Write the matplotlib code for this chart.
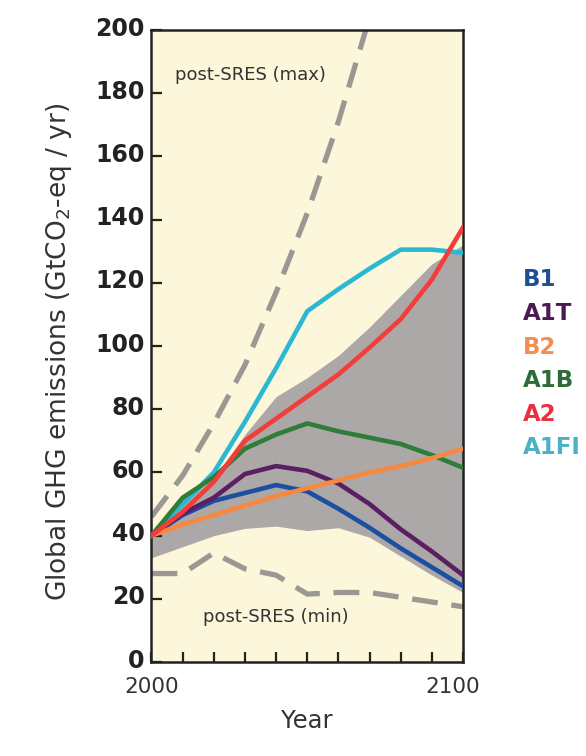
import numpy as np
import matplotlib
matplotlib.use("Agg")
import matplotlib.pyplot as plt
import matplotlib.transforms as mtransforms

# SRES scenario emissions (GtCO2-eq / yr)
years = [2000, 2010, 2020, 2030, 2040, 2050, 2060, 2070, 2080, 2090, 2100]
B1 = [40, 46.5, 51, 53.5, 56, 54, 48.5, 42.5, 36, 30, 24]
A1T = [40, 47, 52, 59.5, 62, 60.5, 56.5, 50, 42, 35, 27.5]
B2 = [40, 43.5, 46.5, 49.5, 52.5, 55, 57.5, 60, 62, 64.5, 67.5]
A1B = [40, 52, 58.5, 67.5, 72, 75.5, 73, 71, 69, 65.5, 61.5]
A2 = [40, 47.5, 57, 70, 77, 84, 91, 99.5, 108.5, 121, 137.5]
A1FI = [40, 50, 60, 76, 93, 111, 118, 124.5, 130.5, 130.5, 129.5]

# grey band (range of post-SRES scenarios)
band_hi = [41, 51, 58, 72, 84, 90, 97, 106, 116, 126, 132]
band_lo = [33, 36.5, 40, 42.3, 43, 41.6, 42.5, 39.5, 33.5, 27.5, 22]

# post-SRES max / min
max_years = [2000, 2010, 2020, 2030, 2040, 2050, 2060, 2070]
post_max = [46, 59, 75.5, 94, 117, 142, 171, 204]
post_min = [28, 28, 34.5, 29.5, 27.5, 21.5, 22, 22, 20.5, 19, 17.5]

names = ["B1", "A1T", "B2", "A1B", "A2", "A1FI"]
line_cols = {"B1": "#1d4fa0", "A1T": "#5b1e63", "B2": "#f6883f",
             "A1B": "#2f7d39", "A2": "#f23d3a", "A1FI": "#2bb8d3"}
text_cols = {"B1": "#1f4e98", "A1T": "#4a1a52", "B2": "#f09050",
             "A1B": "#2f6b36", "A2": "#e8303f", "A1FI": "#4cb0c8"}
series = {"B1": B1, "A1T": A1T, "B2": B2, "A1B": A1B, "A2": A2, "A1FI": A1FI}

plt.rcParams['font.family'] = ['DejaVu Sans']

fig = plt.figure(figsize=(5.86, 7.56), dpi=100)
ax = fig.add_axes([0.2585, 0.1243, 0.5316, 0.836])
ax.set_facecolor('#fcf6da')

ax.fill_between(years, band_lo, band_hi, color='#aca8a7', lw=0, zorder=1)

dash_kw = dict(color='#9b9893', lw=3.8, dashes=(4.9, 2.6), zorder=2,
               dash_capstyle='butt')
ax.plot(max_years, post_max, **dash_kw)
ax.plot(years, post_min, **dash_kw)

for n in ["A1FI", "A1B", "B1", "A1T", "B2", "A2"]:
    ax.plot(years, series[n], color=line_cols[n], lw=3.3, zorder=3)

ax.text(2007.5, 185.8, "post-SRES (max)", fontsize=13, color='#333333',
        va='center', ha='left')
ax.text(2016.5, 14.2, "post-SRES (min)", fontsize=13, color='#333333',
        va='center', ha='left')

ax.set_xlim(2000, 2100)
ax.set_ylim(0, 200)
ax.set_yticks(range(0, 201, 20))
ax.set_xticks(range(2000, 2101, 10))
ax.set_xticklabels(['2000'] + [''] * 9 + ['2100'])
ax.tick_params(axis='y', direction='in', length=8, width=1.6, labelsize=17,
               pad=5, color='#222222')
ax.tick_params(axis='x', direction='in', length=7.5, width=1.6, labelsize=15.5,
               pad=11, color='#222222')
up = mtransforms.ScaledTranslation(0, 4 / 100, fig.dpi_scale_trans)
for lab in ax.get_yticklabels():
    lab.set_fontweight('bold')
    lab.set_color('#222222')
    lab.set_transform(lab.get_transform() + up)
for lab in ax.get_xticklabels():
    lab.set_color('#333333')
# the 2100 label sits a little left of its tick
lab2100 = ax.get_xticklabels()[-1]
lab2100.set_transform(lab2100.get_transform() +
                      mtransforms.ScaledTranslation(-10 / 100, 0, fig.dpi_scale_trans))

for sp in ax.spines.values():
    sp.set_linewidth(1.8)
    sp.set_color('#222222')

ax.set_xlabel("Year", fontsize=17.5, color='#333333')
ax.xaxis.set_label_coords(0.5, -0.075)
ax.set_ylabel("Global GHG emissions (GtCO$\\mathregular{_2}$-eq / yr)",
              fontsize=19, color='#333333')
ax.yaxis.set_label_coords(-0.25, 0.49)

for i, n in enumerate(names):
    fig.text(523 / 586, 1 - (280 + 33.6 * i) / 756, n, color=text_cols[n],
             fontsize=16.5, fontweight='bold', va='center', ha='left')

fig.savefig("out.png", dpi=100, facecolor='white')
